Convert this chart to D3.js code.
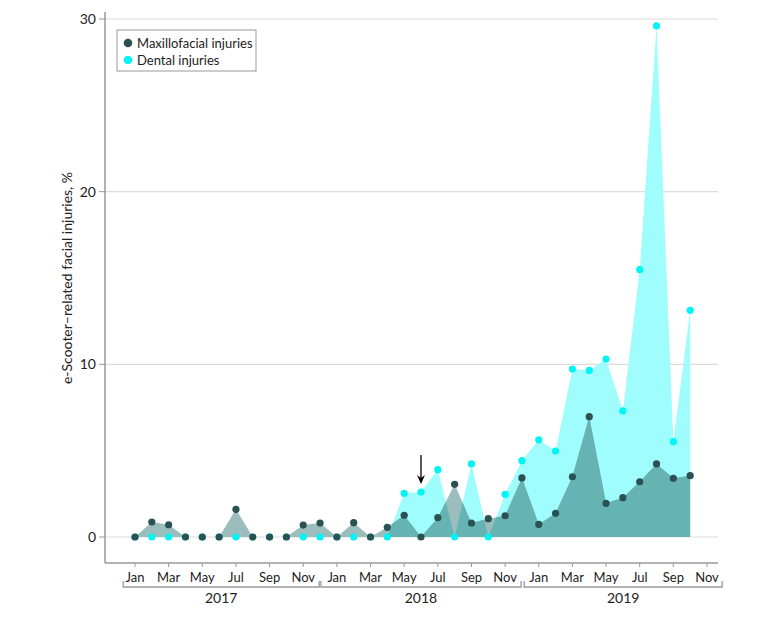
<!DOCTYPE html>
<html>
<head>
<meta charset="utf-8">
<script src="https://cdn.jsdelivr.net/npm/d3@7"></script>
<style>
  body { margin: 0; background: #fff; }
  svg text { font-family: Lato, "Open Sans", sans-serif; fill: #222; }
</style>
</head>
<body>
<div id="chart"></div>
<script>
// monthly values, Jan 2017 .. Oct 2019
const maxillofacial = [0, 0.87, 0.71, 0, 0, 0, 1.6, 0, 0, 0, 0.69, 0.81,
  0, 0.83, 0, 0.56, 1.26, 0, 1.12, 3.05, 0.81, 1.06, 1.23, 3.42,
  0.73, 1.37, 3.49, 6.97, 1.95, 2.28, 3.2, 4.23, 3.4, 3.55];
const dental = [0, 0, 0, 0, 0, 0, 0, 0, 0, 0, 0, 0,
  0, 0, 0, 0, 2.53, 2.6, 3.9, 0, 4.23, 0, 2.47, 4.42,
  5.63, 4.98, 9.73, 9.65, 10.31, 7.3, 15.48, 29.6, 5.52, 13.13];
const monthTicks = ["Jan", "Mar", "May", "Jul", "Sep", "Nov"];
const years = ["2017", "2018", "2019"];
const yTicks = [0, 10, 20, 30];
const arrowMonth = 17; // Jun 2018

const width = 783, height = 623;
const svg = d3.select("#chart").append("svg")
  .attr("width", width)
  .attr("height", height);

const x = d3.scaleLinear().domain([0, 34]).range([135, 707]);
const y = d3.scaleLinear().domain([0, 30]).range([537, 19]);
const axisLeft = 105, axisBottom = 563, axisRight = 718;

// gridlines
svg.append("g")
  .selectAll("line")
  .data(yTicks)
  .enter().append("line")
  .attr("x1", axisLeft).attr("x2", axisRight)
  .attr("y1", d => y(d)).attr("y2", d => y(d))
  .attr("stroke", "#dcdcdc")
  .attr("stroke-width", 1.2);

const area = vals => d3.area()
  .x((d, i) => x(i))
  .y0(y(0))
  .y1(d => y(d))(vals);

// dental area, then maxillofacial with darker tone where they overlap
svg.append("defs").append("clipPath")
  .attr("id", "dentalClip")
  .append("path")
  .attr("d", area(dental));

svg.append("path").attr("d", area(dental)).attr("fill", "#9ffdfd");
svg.append("path").attr("d", area(maxillofacial)).attr("fill", "#9cbdbd");
svg.append("path").attr("d", area(maxillofacial))
  .attr("fill", "#66b3b3")
  .attr("clip-path", "url(#dentalClip)");

// points
svg.append("g")
  .selectAll("circle")
  .data(dental)
  .enter().append("circle")
  .attr("cx", (d, i) => x(i))
  .attr("cy", d => y(d))
  .attr("r", 3.6)
  .attr("fill", "#00f5f5");

svg.append("g")
  .selectAll("circle")
  .data(maxillofacial)
  .enter().append("circle")
  .attr("cx", (d, i) => x(i))
  .attr("cy", d => y(d))
  .attr("r", 3.6)
  .attr("fill", "#2a5252");

// arrow marking Jun 2018
const ax = x(arrowMonth);
svg.append("line")
  .attr("x1", ax).attr("x2", ax)
  .attr("y1", 455).attr("y2", 478)
  .attr("stroke", "#000").attr("stroke-width", 1.3);
svg.append("path")
  .attr("d", `M${ax - 4},${475} L${ax},${484} L${ax + 4},${475} L${ax},${478} Z`)
  .attr("fill", "#000");

// axes lines
svg.append("line")
  .attr("x1", axisLeft).attr("x2", axisLeft)
  .attr("y1", 12).attr("y2", axisBottom)
  .attr("stroke", "#999").attr("stroke-width", 1.5);
svg.append("line")
  .attr("x1", axisLeft).attr("x2", axisRight)
  .attr("y1", axisBottom).attr("y2", axisBottom)
  .attr("stroke", "#999").attr("stroke-width", 1.5);

// y ticks
const yt = svg.append("g").selectAll("g").data(yTicks).enter().append("g");
yt.append("line")
  .attr("x1", axisLeft - 6).attr("x2", axisLeft)
  .attr("y1", d => y(d)).attr("y2", d => y(d))
  .attr("stroke", "#999");
yt.append("text")
  .attr("x", axisLeft - 9)
  .attr("y", d => y(d))
  .attr("dy", "0.35em")
  .attr("text-anchor", "end")
  .attr("font-size", 14)
  .text(d => d);

svg.append("text")
  .attr("transform", `translate(72,${278}) rotate(-90)`)
  .attr("text-anchor", "middle")
  .attr("font-size", 14)
  .text("e-Scooter–related facial injuries, %");

// x ticks: every other month
const xTickIdx = d3.range(0, 35, 2);
const xt = svg.append("g").selectAll("g").data(xTickIdx).enter().append("g");
xt.append("line")
  .attr("x1", d => x(d)).attr("x2", d => x(d))
  .attr("y1", axisBottom).attr("y2", axisBottom + 4)
  .attr("stroke", "#999");
xt.append("text")
  .attr("x", d => x(d))
  .attr("y", 582)
  .attr("text-anchor", "middle")
  .attr("font-size", 13)
  .text(d => monthTicks[(d % 12) / 2]);

// year brackets
const bracketEdges = [[-0.7, 10.95], [11.05, 22.95], [23.13, 34.9]];
const yb = svg.append("g").selectAll("g").data(years).enter().append("g");
yb.append("path")
  .attr("d", (d, i) => {
    const a = x(bracketEdges[i][0]), b = x(bracketEdges[i][1]);
    return `M${a},581 V587 H${b} V581`;
  })
  .attr("fill", "none")
  .attr("stroke", "#999")
  .attr("stroke-width", 1.3);
yb.append("text")
  .attr("x", (d, i) => x((bracketEdges[i][0] + bracketEdges[i][1]) / 2))
  .attr("y", 603)
  .attr("text-anchor", "middle")
  .attr("font-size", 14)
  .text(d => d);

// legend
const legend = svg.append("g");
legend.append("rect")
  .attr("x", 117).attr("y", 30)
  .attr("width", 139).attr("height", 41)
  .attr("fill", "#fff")
  .attr("stroke", "#999");
const legendItems = [["Maxillofacial injuries", "#2a5252"], ["Dental injuries", "#00f5f5"]];
legendItems.forEach(([label, color], i) => {
  legend.append("circle")
    .attr("cx", 128).attr("cy", 43 + i * 17)
    .attr("r", 4.3)
    .attr("fill", color);
  legend.append("text")
    .attr("x", 137).attr("y", 43 + i * 17)
    .attr("dy", "0.35em")
    .attr("font-size", 13)
    .text(label);
});
</script>
</body>
</html>
